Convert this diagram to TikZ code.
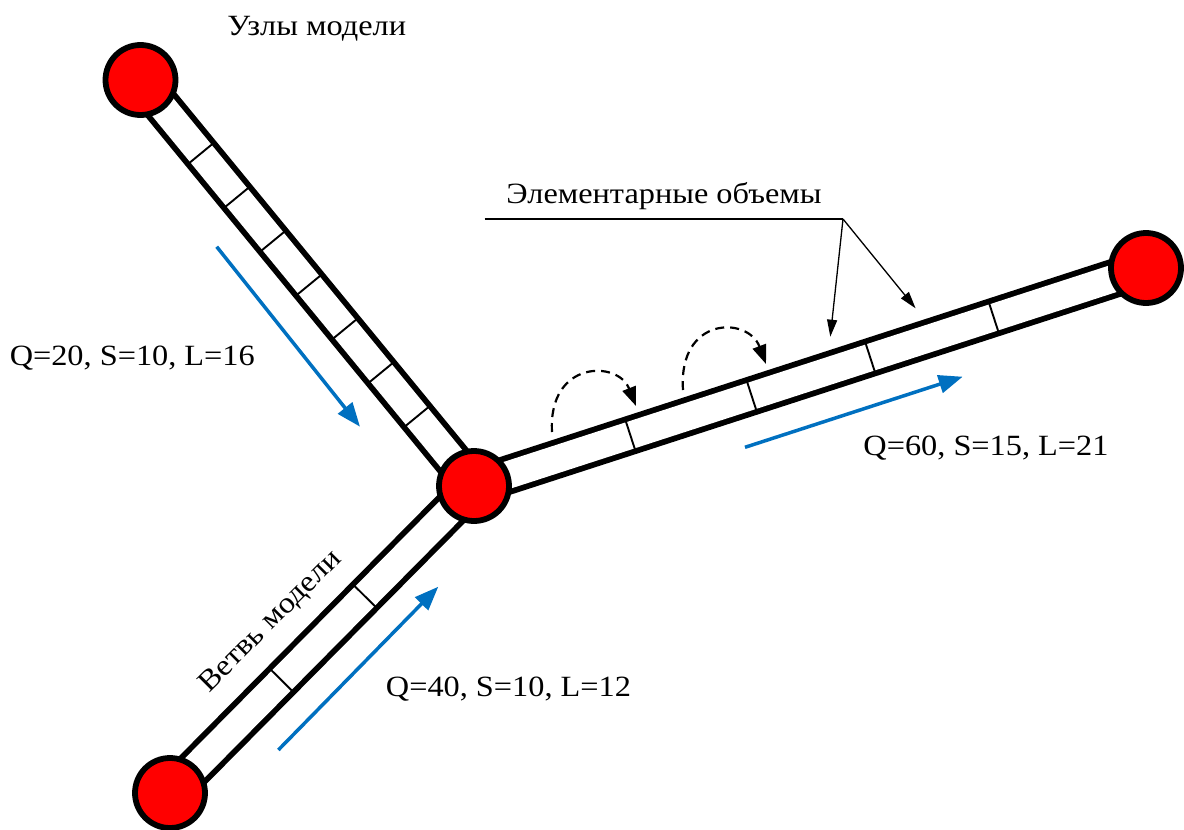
\documentclass[tikz,border=0pt]{standalone}
\usepackage{fontspec}
\setmainfont{Liberation Serif}[FakeStretch=1.1]
\usetikzlibrary{arrows.meta,calc,backgrounds}
\definecolor{nodered}{RGB}{255,0,0}
\definecolor{flowblue}{RGB}{0,112,192}
\begin{document}
\begin{tikzpicture}[x=1bp,y=-1bp,
  vertex/.style={circle, draw=black, line width=5.8bp, fill=nodered, minimum size=70bp, inner sep=0pt},
  pipe/.style={draw=black, line width=5.8bp, double=white, double distance=27.5bp},
  cell/.style={draw=black, line width=1.9bp},
  flow/.style={draw=flowblue, line width=3.5bp, -{Triangle[length=24bp,width=18bp]}},
  jump/.style={draw=black, line width=2.2bp, dash pattern=on 9bp off 6bp, -{Triangle[length=19bp,width=14bp]}},
  pointer/.style={draw=black, line width=1.3bp, -{Triangle[length=17bp,width=10bp]}},
  lbl/.style={font=\fontsize{29.5}{32}\selectfont, inner sep=0pt}
]
\useasboundingbox (0,0) rectangle (1184,830);

% nodes of the model
\node[vertex] (tl) at (140.5,80) {};
\node[vertex] (c)  at (474,486) {};
\node[vertex] (bl) at (170,793) {};
\node[vertex] (r)  at (1146,268) {};

% branches (pipes) with elementary volumes
\begin{pgfonlayer}{background}
\draw[pipe] (tl.center) -- (c.center);
\draw[pipe] (bl.center) -- (c.center);
\draw[pipe] (c.center) -- (r.center);
\foreach \p in {0.181,0.289,0.397,0.505,0.613,0.721,0.829}
  \draw[cell] ($(tl.center)!\p!(c.center)!15bp!90:(c.center)$) -- ($(tl.center)!\p!(c.center)!15bp!-90:(c.center)$);
\foreach \p in {0.367,0.641}
  \draw[cell] ($(bl.center)!\p!(c.center)!15bp!90:(c.center)$) -- ($(bl.center)!\p!(c.center)!15bp!-90:(c.center)$);
\foreach \p in {0.2327,0.4132,0.5896,0.7734}
  \draw[cell] ($(c.center)!\p!(r.center)!15bp!90:(r.center)$) -- ($(c.center)!\p!(r.center)!15bp!-90:(r.center)$);
\end{pgfonlayer}

% flow arrows
\coordinate (f1s) at (216.7,246.7); \coordinate (f1e) at (360,426.7);
\coordinate (f2s) at (278.3,750);   \coordinate (f2e) at (438.3,586.7);
\coordinate (f3s) at (745,447.3);   \coordinate (f3e) at (962.7,376.7);
\draw[flow] (f1s) -- (f1e);
\draw[flow] (f2s) -- (f2e);
\draw[flow] (f3s) -- (f3e);

% dashed jumps between volumes
\coordinate (j1s) at (552,432); \coordinate (j1e) at (636,406);
\coordinate (j2s) at (683,390); \coordinate (j2e) at (766,364);
\draw[jump] (j1s) .. controls (548,360) and (618,360) .. (j1e);
\draw[jump] (j2s) .. controls (678,316) and (748,316) .. (j2e);

% annotation leader
\coordinate (uL) at (484.5,219); \coordinate (uR) at (843,219);
\coordinate (p1) at (830.3,336.7); \coordinate (p2) at (915.6,308.3);
\draw[line width=1.3bp] (uL) -- (uR);
\draw[pointer] (uR) -- (p1);
\draw[pointer] (uR) -- (p2);

% labels
\node[lbl, anchor=base] (lnodes) at (316.7,35) {Узлы модели};
\node[lbl, anchor=base] (lcells) at (664,203) {Элементарные объемы};
\node[lbl, anchor=base] (l1) at (132.3,365) {Q=20, S=10, L=16};
\node[lbl, anchor=base] (l3) at (986,455) {Q=60, S=15, L=21};
\node[lbl, anchor=base] (l2) at (508.5,696.7) {Q=40, S=10, L=12};
\node[lbl, rotate=45] (lbranch) at (271,622) {Ветвь модели};
\end{tikzpicture}
\end{document}
